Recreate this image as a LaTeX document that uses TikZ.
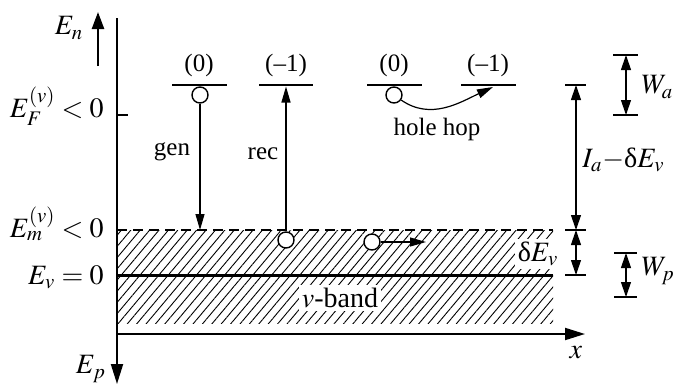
\documentclass[tikz,border=0pt]{standalone}
\usepackage{mathptmx}
\usepackage[no-math]{fontspec}
\setmainfont{Liberation Serif}
\usetikzlibrary{arrows.meta, patterns.meta, positioning}

\begin{document}
\begin{tikzpicture}[x=0.5pt, y=-0.5pt,
    axis/.style={line width=1pt, -{Triangle[length=10pt, width=6pt]}},
    levelline/.style={line width=1.4pt},
    hole/.style={circle, draw, fill=white, line width=0.7pt, minimum size=8pt, inner sep=0pt},
    transition/.style={line width=0.6pt, -{Triangle[length=8pt, width=4.5pt]}},
    dimarrow/.style={line width=0.6pt, {Triangle[length=7.5pt, width=5pt]}-{Triangle[length=7.5pt, width=5pt]}},
    dimtick/.style={line width=0.6pt},
    charge/.style={font=\fontsize{12.5}{14}\selectfont, inner sep=1pt},
    energylabel/.style={font=\fontsize{14}{16}\selectfont, inner sep=0pt},
    axislabel/.style={font=\fontsize{14}{16}\selectfont, inner sep=0pt},
    bandlabel/.style={font=\fontsize{14}{16}\selectfont, fill=white, inner sep=1.5pt}
]
    \useasboundingbox (0,0) rectangle (676,386);

    % Axes: energy downwards for holes, x to the right.
    \coordinate (axtop) at (117,18);
    \coordinate (axbot) at (117,384);
    \coordinate (origin) at (117,334);
    \coordinate (xend) at (585,334);
    \coordinate (entail) at (98,66);
    \coordinate (entip) at (98,12);
    \draw[axis] (axtop) -- (axbot);
    \draw[axis] (origin) -- (xend);
    \draw[line width=1.2pt, -{Triangle[length=8.5pt, width=6pt]}] (entail) -- (entip);
    \node[axislabel] (En) at (69,28) {$E_n$};
    \node[axislabel] (Ep) at (91,369) {$E_p$};
    \node[axislabel] (xlab) at (576,353) {$x$};

    % Valence band, hatched down from the mobility edge.
    \fill[pattern={Lines[angle=50, distance=3.6pt, line width=0.45pt]}] (117,230) rectangle (553,323);
    \coordinate (em0) at (117,230);
    \coordinate (em1) at (553,230);
    \coordinate (ev0) at (117,275);
    \coordinate (ev1) at (553,275);
    \draw[line width=1pt, dash pattern=on 5pt off 3pt] (em0) -- (em1);
    \draw[line width=1.5pt] (ev0) -- (ev1);
    \node[bandlabel] (band) at (340,298) {$v$-band};
    \node[bandlabel] (dev) at (538,254) {δ$E_v$};

    % Energy marks on the axis.
    \coordinate (ef0) at (117,115);
    \coordinate (ef1) at (128,115);
    \draw[line width=1pt] (ef0) -- (ef1);
    \node[energylabel, anchor=base east] (EF) at (104,117) {$E_F^{(v)} < 0$};
    \node[energylabel, anchor=base east] (Em) at (104,237) {$E_m^{(v)} < 0$};
    \node[energylabel, anchor=base east] (Ev) at (104,284) {$E_v = 0$};

    % Acceptor levels and their charge states.
    \coordinate (l1a) at (172,85);
    \coordinate (l1b) at (227,85);
    \coordinate (l2a) at (259,85);
    \coordinate (l2b) at (313,85);
    \coordinate (l3a) at (367,85);
    \coordinate (l3b) at (422,85);
    \coordinate (l4a) at (461,85);
    \coordinate (l4b) at (516,85);
    \draw[levelline] (l1a) -- (l1b);
    \draw[levelline] (l2a) -- (l2b);
    \draw[levelline] (l3a) -- (l3b);
    \draw[levelline] (l4a) -- (l4b);
    \node[charge] at (199,65) {(0)};
    \node[charge] at (286,65) {(--1)};
    \node[charge] at (394,65) {(0)};
    \node[charge] at (488,65) {(--1)};

    % Holes and transitions.
    \node[hole] (h1) at (200,95) {};
    \node[hole] (h2) at (286,240) {};
    \node[hole] (h3) at (394,95) {};
    \node[hole] (h4) at (372,242) {};
    \coordinate (gentip) at (200,230);
    \coordinate (rectip) at (286,86.5);
    \coordinate (hoptip) at (493,87);
    \coordinate (drifttip) at (426,242);
    \draw[transition] (h1) -- (gentip);
    \draw[transition] (h2) -- (rectip);
    \draw[transition] (h3) to[out=-35, in=205] (hoptip);
    \draw[transition] (h4) -- (drifttip);
    \node[charge] at (172,152) {gen};
    \node[charge] at (263,154) {rec};
    \node[charge] at (437,129) {hole hop};

    % Dimension marks on the right.
    \coordinate (ia1) at (576,85);
    \coordinate (ia2) at (576,230);
    \coordinate (dv2) at (576,275);
    \draw[dimtick] (565,85) -- (586,85);
    \draw[dimtick] (565,230) -- (586,230);
    \draw[dimtick] (565,275) -- (586,275);
    \draw[dimarrow] (ia1) -- (ia2);
    \draw[dimarrow] (ia2) -- (dv2);
    \node[energylabel, anchor=west] (ialab) at (582,160) {$I_a{-}$δ$E_v$};

    \coordinate (wa1) at (626,55);
    \coordinate (wa2) at (626,115);
    \draw[dimtick] (613,55) -- (638,55);
    \draw[dimtick] (613,115) -- (638,115);
    \draw[dimarrow] (wa1) -- (wa2);
    \node[energylabel, anchor=west] (walab) at (641,87) {$W_a$};

    \coordinate (wp1) at (626,253);
    \coordinate (wp2) at (626,297);
    \draw[dimtick] (614,253) -- (637,253);
    \draw[dimtick] (614,297) -- (637,297);
    \draw[dimarrow] (wp1) -- (wp2);
    \node[energylabel, anchor=west] (wplab) at (641,271) {$W_p$};
\end{tikzpicture}
\end{document}
